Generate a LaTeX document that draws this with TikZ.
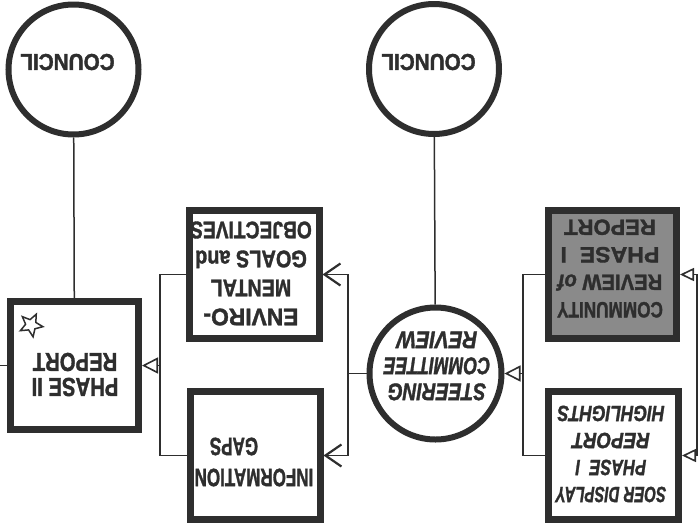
\documentclass[tikz,border=0pt]{standalone}
\usepackage{fontspec}
\usepackage{graphicx}
\setmainfont{Liberation Sans}[BoldFeatures={FakeBold=1.6},BoldItalicFeatures={FakeBold=1.6}]
\usetikzlibrary{arrows.meta,shapes.geometric}
\definecolor{ink}{HTML}{2E2E2E}
\definecolor{shade}{HTML}{8A8A8A}
\newcommand\sx[2]{\scalebox{#1}[1]{#2}}
\begin{document}
\begin{tikzpicture}[x=1pt,y=-1pt,
  box/.style={draw=ink, line width=7pt, minimum width=130pt, minimum height=128pt, inner sep=0pt, fill=white},
  ring/.style={circle, draw=ink, line width=6pt, inner sep=0pt, fill=white},
  lbl/.style={rotate=180, align=center, text=ink, inner sep=0pt},
  wire/.style={draw=ink, line width=1.5pt},
  tri/.style={wire, -{Triangle[open, length=16pt, width=16pt, line width=1.6pt]}},
  trismall/.style={wire, -{Triangle[open, length=14pt, width=13pt, line width=1.6pt]}},
  barb/.style={wire, -{Straight Barb[length=16pt, width=22pt, line width=2.2pt]}}
]
\useasboundingbox (0,0) rectangle (699,531);

% shapes
\node[ring, minimum size=130pt] (councilL) at (73.5,69.5) {};
\node[ring, minimum size=130pt] (councilR) at (434,69) {};
\node[ring, minimum size=132pt] (steer) at (435.5,373.5) {};
\node[box, minimum width=128pt] (phase2) at (74.5,365.5) {};
\node[box] (enviro) at (254,274.5) {};
\node[box] (info) at (255,455.5) {};
\node[box, fill=shade, minimum width=128pt] (community) at (612.5,274.5) {};
\node[box] (soer) at (613.5,455.5) {};

% texts
\node[lbl, font=\bfseries\fontsize{23}{26}\selectfont] (councilLt) at (67.5,62) {\sx{0.9}{COUNCIL}};
\node[lbl, font=\bfseries\fontsize{23}{26}\selectfont] (councilRt) at (428.5,62) {\sx{0.9}{COUNCIL}};
\node[lbl, font=\bfseries\itshape\fontsize{24}{26}\selectfont] (steert) at (437,366)
  {\sx{0.8}{STEERING}\\\sx{0.74}{COMMITTEE}\\\sx{0.85}{REVIEW}};
\node[lbl, font=\bfseries\fontsize{26}{25}\selectfont] (phase2t) at (75,374.5)
  {\sx{0.78}{PHASE II}\\\sx{0.78}{REPORT}};
\node[lbl, font=\bfseries\fontsize{24}{29}\selectfont] (envirot) at (251,273.5)
  {\sx{0.95}{ENVIRO-}\\\sx{0.82}{MENTAL}\\\sx{0.83}{GOALS and}\\\sx{0.8}{OBJECTIVES}};
\node[lbl, font=\bfseries\fontsize{25}{31}\selectfont] (infot) at (254,462)
  {\sx{0.68}{INFORMATION}\\\hspace*{40pt}\sx{0.68}{GAPS}};
\node[lbl, font=\bfseries\fontsize{22}{27.5}\selectfont] (communityt) at (610,268.5)
  {\sx{0.78}{COMMUNITY}\\\sx{0.92}{REVIEW \itshape of}\\\sx{1.05}{PHASE\ \ I}\\REPORT};
\node[lbl, font=\bfseries\itshape\fontsize{22}{27}\selectfont] (soert) at (611,454)
  {\sx{0.68}{SOER DISPLAY}\\\sx{0.75}{PHASE\ \ I}\\\sx{0.85}{REPORT}\\\sx{0.79}{HIGHLIGHTS}};
\node[star, star points=5, star point ratio=2.2, draw=ink, line width=1.5pt, minimum size=24pt, inner sep=0pt, rotate=190] (star) at (31,325) {};

% connectors
\draw[wire] (councilL) -- (phase2);
\draw[wire] (councilR) -- (steer);

\coordinate (jL) at (160,365.5);
\draw[wire] (enviro.west) -| (jL) |- (info.west);
\draw[tri] (jL) -- (phase2.east);
\coordinate (edgeL) at (0,365.5);
\draw[wire] (phase2.west) -- (edgeL);

\coordinate (jM) at (348,373.5);
\draw[wire] (steer.west) -- (jM);
\draw[barb] (jM) |- (enviro.east);
\draw[barb] (jM) |- (info.east);

\coordinate (jR) at (523,373.5);
\draw[wire] (community.west) -| (jR) |- (soer.west);
\draw[tri] (jR) -- (steer.east);

\coordinate (jE) at (697,365);
\draw[trismall] (jE) |- (community.east);
\draw[trismall] (jE) |- (soer.east);
\end{tikzpicture}
\end{document}
